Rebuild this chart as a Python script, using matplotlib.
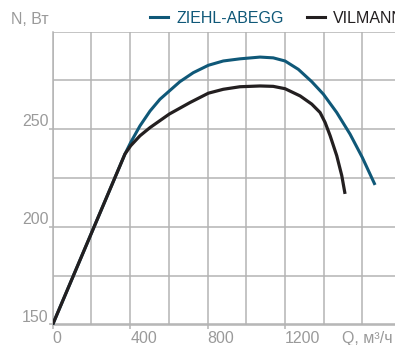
import matplotlib
matplotlib.use('Agg')
import matplotlib.pyplot as plt
from matplotlib.lines import Line2D
from matplotlib.ticker import FixedLocator

plt.rcParams['font.family'] = ['Liberation Sans', 'DejaVu Sans']

# данные: расход Q (м³/ч) и мощность N (Вт)
q_ziehl = [0, 100, 200, 300, 373, 403, 451, 503, 554, 602, 657, 726, 804,
           881, 967, 1071, 1139, 1200, 1269, 1338, 1398, 1467, 1536, 1599, 1665]
n_ziehl = [150, 173.4, 196.8, 220.2, 237.3, 243.3, 251.8, 259.4, 265.4, 269.6,
           274.4, 279, 282.8, 285, 286.1, 287, 286.6, 285, 280.7, 274.4, 268,
           258.6, 247.5, 235.6, 221.5]

q_vil = [0, 100, 200, 300, 373, 403, 451, 503, 602, 709, 804, 881, 967, 1071,
         1139, 1200, 1278, 1338, 1381, 1407, 1433, 1467, 1493, 1510]
n_vil = [150, 173.4, 196.8, 220.2, 237.3, 241.6, 246.7, 250.9, 257.8, 263.7,
         268.5, 270.5, 271.8, 272.2, 272, 270.8, 267.1, 262.9, 258.6, 253.5,
         246.7, 236.5, 226.3, 216.9]

labels = ['ZIEHL-ABEGG', 'VILMANN']
x_ticks = [0, 400, 800, 1200]
x_grid = [200, 600, 1000, 1400, 1600]
y_ticks = [150, 200, 250]
y_grid = [175, 225, 275, 300]

C_BLUE = '#0f5878'
C_BLACK = '#231f20'
C_GRID = '#b4b4b4'
C_TEXT = '#9a9a9a'

fig = plt.figure(figsize=(3.95, 3.45), dpi=100)
ax = fig.add_axes([52.7 / 395, 20.5 / 345, 342.3 / 395, 292.8 / 345])

ax.plot(q_ziehl, n_ziehl, color=C_BLUE, lw=2.2, solid_capstyle='butt',
        solid_joinstyle='round', zorder=3)
ax.plot(q_vil, n_vil, color=C_BLACK, lw=2.3, solid_capstyle='butt',
        solid_joinstyle='round', zorder=4)

ax.set_xlim(0, 1768)
ax.set_ylim(150, 300)

ax.xaxis.set_major_locator(FixedLocator(x_ticks))
ax.xaxis.set_minor_locator(FixedLocator(x_grid))
ax.yaxis.set_major_locator(FixedLocator(y_ticks))
ax.yaxis.set_minor_locator(FixedLocator(y_grid))
ax.set_xticklabels([str(v) for v in x_ticks])
ax.set_yticklabels([str(v) for v in y_ticks])

ax.grid(which='both', color=C_GRID, lw=1.1)
ax.set_axisbelow(True)
for s in ['top', 'right']:
    ax.spines[s].set_visible(False)
for s in ['left', 'bottom']:
    ax.spines[s].set_color(C_GRID)
    ax.spines[s].set_linewidth(1.1)

ax.tick_params(which='major', direction='out', length=3.2, width=1.1,
               color=C_GRID, labelcolor=C_TEXT, labelsize=11.5)
ax.tick_params(which='minor', length=0)
ax.tick_params(axis='x', pad=1.5)
ax.tick_params(axis='y', pad=0)
for t in ax.get_xticklabels():
    t.set_horizontalalignment('left')
for t in ax.get_yticklabels():
    t.set_verticalalignment('bottom')

fig.text(48.5 / 395, (345 - 24.5) / 345, 'N, Вт', ha='right', va='baseline',
         color=C_TEXT, fontsize=11.5)
fig.text(393 / 395, (345 - 331) / 345, 'Q, м³/ч', ha='right', va='top',
         color=C_TEXT, fontsize=11.5)

handles = [Line2D([], [], color=C_BLUE, lw=2.2),
           Line2D([], [], color=C_BLACK, lw=2.2)]
leg = fig.legend(handles, labels, loc='center left',
                 bbox_to_anchor=(150 / 395, (345 - 18.5) / 345), ncol=2,
                 frameon=False, fontsize=11.5, handlelength=1.1,
                 handletextpad=0.55, columnspacing=1.45, borderpad=0,
                 borderaxespad=0)
for txt, c in zip(leg.get_texts(), [C_BLUE, C_BLACK]):
    txt.set_color(c)

fig.savefig('out.png', dpi=100)
